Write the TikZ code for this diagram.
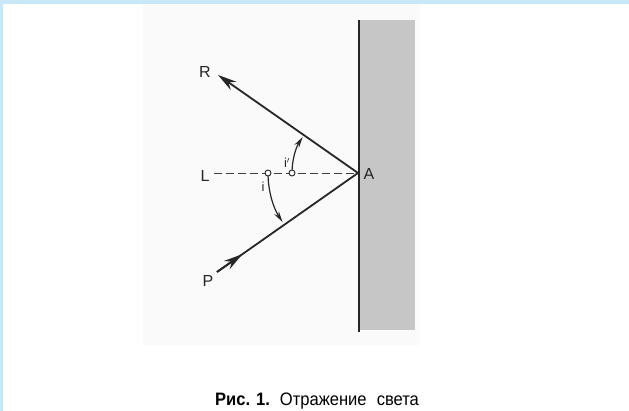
\documentclass[tikz,border=0pt]{standalone}
\usepackage{fontspec}
\setmainfont{Liberation Sans}
\usetikzlibrary{arrows.meta,calc}
\definecolor{frameblue}{HTML}{C8E8F8}
\definecolor{wallgray}{HTML}{C6C6C6}
\begin{document}
\begin{tikzpicture}[x=1pt,y=1pt,
  ray/.style={line width=1.8pt, draw=black!85},
  tip/.style={-{Stealth[length=19pt,width=10pt]}},
  lab/.style={font=\fontsize{16}{16}\selectfont, text=black!85, inner sep=0pt},
  small/.style={font=\fontsize{13}{13}\selectfont, text=black!85, inner sep=0pt},
  ring/.style={circle, draw=black!85, line width=0.9pt, minimum size=6pt, inner sep=0pt, fill=white}
]
\useasboundingbox (0,0) rectangle (629,411);
\fill[white] (0,0) rectangle (629,411);
\fill[frameblue] (0,407) rectangle (629,411);
\fill[frameblue] (0,0) rectangle (3,411);
\fill[black!2] (143,66) rectangle (420,407);
% wall
\fill[wallgray] (360,81) rectangle (415,391);
\draw[line width=2.4pt, black!85] (359,79) -- (359,391);
% points
\coordinate (A) at (358,238);
\coordinate (Rend) at (218,336);
\coordinate (Pstart) at (217,139);
\coordinate (Lend) at (214,238);
% dashed normal
\draw[line width=0.9pt, black!75, dash pattern=on 8pt off 4pt] (Lend) -- (A);
% rays
\draw[ray] (Pstart) -- (A);
\draw[ray, tip] (Pstart) -- ($(Pstart)!0.18!(A)$);
\draw[ray, tip] (A) -- (Rend);
% angle arcs
\draw[line width=1.2pt, black!85, -{Stealth[length=11pt,width=5.5pt]}] ($(A)+(180:90)$) arc[start angle=180, end angle=213, radius=90];
\draw[line width=1.2pt, black!85, -{Stealth[length=11pt,width=5.5pt]}] ($(A)+(180:66)$) arc[start angle=180, end angle=147, radius=66];
\node[ring] (c1) at (268,238) {};
\node[ring] (c2) at (292,238) {};
% labels
\node[lab] (R) at (205,339) {R};
\node[lab] (L) at (205,235) {L};
\node[lab] (P) at (208,130) {P};
\node[lab] (Alab) at (369,237) {A};
\node[small] (i) at (263,224) {i};
\node[small] (ip) at (287,248) {i$'$};
% caption
\node[inner sep=0pt] (cap) at (317,10) {\scalebox{0.92}[1]{\fontsize{18}{18}\selectfont\textbf{Рис. 1.}\hspace{4pt} Отражение\hspace{6pt} света}};
\end{tikzpicture}
\end{document}
